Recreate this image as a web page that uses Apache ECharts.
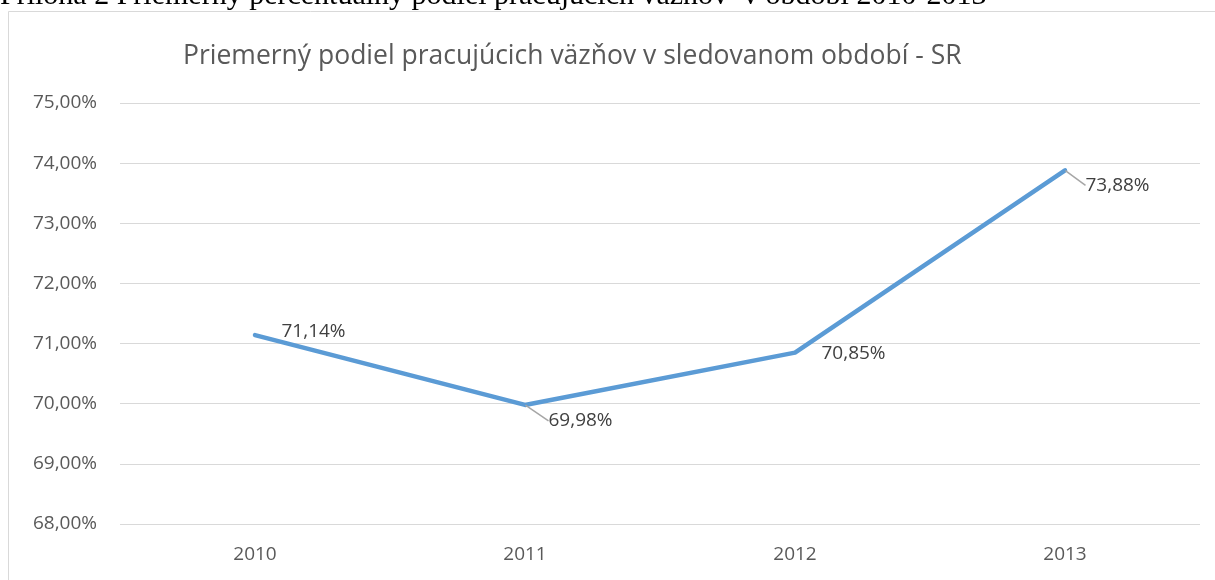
<!DOCTYPE html>
<html>
<head>
<meta charset="utf-8">
<script src="https://cdn.jsdelivr.net/npm/echarts@6/dist/echarts.min.js"></script>
<style>
  html, body { margin: 0; padding: 0; background: #fff; }
  #chart { width: 1215px; height: 580px; }
</style>
</head>
<body>
<div id="chart"></div>
<script>
// data
const years = ['2010', '2011', '2012', '2013'];
const podiel = [71.14, 69.98, 70.85, 73.88];

// posun popiskov (dx, dy) a vodiaca ciara
const labelShift = [[2, -4], [-1, 16], [2, 1], [-4, 15]];
const leader = [false, true, false, true];

const fmt = (v) => v.toFixed(2).replace('.', ',') + '%';

const chart = echarts.init(document.getElementById('chart'));

chart.setOption({
  animation: false,
  backgroundColor: '#fff',
  title: {
    text: 'Priemerný podiel pracujúcich väzňov v sledovanom období - SR',
    left: 178,
    top: 38,
    textStyle: { fontFamily: 'Open Sans', fontSize: 26.5, fontWeight: 'normal', color: '#595959' }
  },
  graphic: [
    {
      // ramik grafu
      type: 'rect',
      shape: { x: 8.5, y: 11.5, width: 1230, height: 600 },
      style: { fill: 'none', stroke: '#d9d9d9', lineWidth: 1 },
      silent: true
    },
    {
      type: 'text',
      left: 0,
      top: -19,
      style: {
        text: 'Príloha 2 Priemerný percentuálny podiel pracujúcich väzňov  v období 2010-2013',
        fontFamily: 'Liberation Serif',
        fontSize: 30,
        fill: '#000'
      },
      silent: true
    }
  ],
  grid: { left: 120, right: 15, top: 103, bottom: 56, containLabel: false },
  xAxis: {
    type: 'category',
    data: years,
    boundaryGap: true,
    axisLine: { show: false },
    axisTick: { show: false },
    axisLabel: { fontFamily: 'Open Sans', fontSize: 19, color: '#595959', margin: 21 }
  },
  yAxis: {
    type: 'value',
    min: 68,
    max: 75,
    interval: 1,
    axisLine: { show: false },
    axisTick: { show: false },
    splitLine: { lineStyle: { color: '#d9d9d9', width: 1 } },
    axisLabel: {
      fontFamily: 'Open Sans', fontSize: 19, color: '#595959', margin: 23,
      formatter: (v) => fmt(v)
    }
  },
  series: [{
    type: 'line',
    data: podiel.map((v, i) => ({ value: v, labelLine: { show: leader[i] } })),
    symbol: 'circle',
    symbolSize: 1,
    showSymbol: true,
    lineStyle: { color: '#5b9bd5', width: 4.5, cap: 'round', join: 'round' },
    itemStyle: { color: 'rgba(91,155,213,0)' },
    label: {
      show: true,
      position: 'right',
      distance: 24,
      fontFamily: 'Open Sans',
      fontSize: 19,
      color: '#404040',
      formatter: (p) => fmt(p.value)
    },
    labelLine: {
      show: true,
      lineStyle: { color: '#a6a6a6', width: 1.5 }
    },
    labelLayout: (p) => {
      const s = labelShift[p.dataIndex];
      return { dx: s[0], dy: s[1] };
    }
  }]
});
</script>
</body>
</html>
